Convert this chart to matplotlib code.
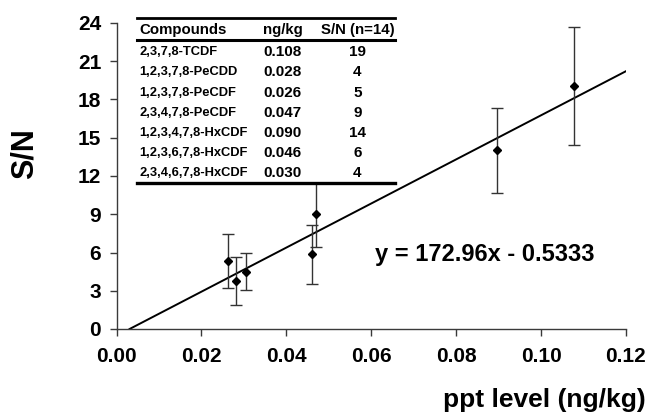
"""S/N versus ppt level for the PCDD/F congeners, with linear fit and inset table."""

import matplotlib
matplotlib.use("Agg")
import matplotlib.pyplot as plt
import numpy as np
from matplotlib.lines import Line2D
from matplotlib.patches import Rectangle

# ── Data ────────────────────────────────────────────────────────────────

compounds = [
    "2,3,7,8-TCDF",
    "1,2,3,7,8-PeCDD",
    "1,2,3,7,8-PeCDF",
    "2,3,4,7,8-PeCDF",
    "1,2,3,4,7,8-HxCDF",
    "1,2,3,6,7,8-HxCDF",
    "2,3,4,6,7,8-HxCDF",
]
ng_kg_labels = ["0.108", "0.028", "0.026", "0.047", "0.090", "0.046", "0.030"]
sn_labels = ["19", "4", "5", "9", "14", "6", "4"]

ppt_level = [0.1078, 0.0281, 0.0263, 0.0470, 0.0897, 0.0460, 0.0304]
sn_mean = [19.05, 3.75, 5.35, 9.0, 14.0, 5.85, 4.5]
sn_err = [4.6, 1.9, 2.1, 2.6, 3.3, 2.3, 1.45]

slope = 172.96
intercept = -0.5333
x_max = 0.12

# ── Figure ──────────────────────────────────────────────────────────────

plt.rcParams["font.family"] = ["Liberation Sans", "DejaVu Sans"]
plt.rcParams["font.weight"] = "bold"

W, H = 648, 416
fig = plt.figure(figsize=(W / 100, H / 100), dpi=100)
ax = fig.add_axes([116.5 / W, 1 - 329 / H, (626 - 116.5) / W, (329 - 23) / H])

axis_col = "#3a3a3a"
for side in ("top", "right"):
    ax.spines[side].set_visible(False)
for side in ("left", "bottom"):
    ax.spines[side].set_color(axis_col)
    ax.spines[side].set_linewidth(1.0)

ax.errorbar(ppt_level, sn_mean, yerr=sn_err, fmt="D", color="black",
            markersize=4.5, ecolor="#333333", elinewidth=1.0, capsize=4,
            capthick=1.0, zorder=3)

x0 = -intercept / slope
xs = np.array([x0, x_max])
ax.plot(xs, slope * xs + intercept, color="black", linewidth=1.4, zorder=2)

ax.set_xlim(0, x_max)
ax.set_ylim(0, 24)
ax.set_xticks(np.arange(0, 0.121, 0.02))
ax.set_xticklabels([f"{v:.2f}" for v in np.arange(0, 0.121, 0.02)])
ax.set_yticks(np.arange(0, 25, 3))
ax.tick_params(axis="both", direction="out", length=5, width=1.0,
               color=axis_col, labelsize=15)
ax.tick_params(axis="x", pad=8)
ax.tick_params(axis="y", pad=6)
for lab in ax.get_xticklabels() + ax.get_yticklabels():
    lab.set_fontweight("bold")

ax.text(375 / W, 1 - 255 / H, f"y = {slope}x - {intercept * -1:.4f}",
        transform=fig.transFigure, fontsize=17, fontweight="bold",
        ha="left", va="center", zorder=5)

fig.text(25 / W, 1 - 154 / H, "S/N", rotation=90, fontsize=22,
         fontweight="bold", ha="center", va="center")
fig.text(646 / W, 1 - 400 / H, "ppt level (ng/kg)", fontsize=19,
         fontweight="bold", ha="right", va="center")

# ── Inset table ─────────────────────────────────────────────────────────

tx0, tx1 = 137, 395
fig.patches.append(Rectangle((tx0 / W, 1 - 184 / H), (tx1 - tx0) / W,
                             (184 - 17) / H, transform=fig.transFigure,
                             facecolor="white", edgecolor="none", zorder=4))
for yy, lw in [(18, 2.0), (40, 2.2), (183, 2.4)]:
    fig.lines.append(Line2D([tx0 / W, tx1 / W], [1 - yy / H, 1 - yy / H],
                            transform=fig.transFigure, color="black",
                            linewidth=lw, zorder=6))

col_name, col_ng, col_sn = 139, 282.5, 357.5
head_y = 30
fig.text(col_name / W, 1 - head_y / H, "Compounds", fontsize=10.8,
         fontweight="bold", ha="left", va="center", zorder=6)
fig.text(col_ng / W, 1 - head_y / H, "ng/kg", fontsize=10.8,
         fontweight="bold", ha="center", va="center", zorder=6)
fig.text(col_sn / W, 1 - head_y / H, "S/N (n=14)", fontsize=10.8,
         fontweight="bold", ha="center", va="center", zorder=6)

row0, row_step = 52.3, 20.17
for i, (name, ng, sn) in enumerate(zip(compounds, ng_kg_labels, sn_labels)):
    yy = 1 - (row0 + i * row_step) / H
    fig.text(col_name / W, yy, name, fontsize=9.3, fontweight="bold",
             ha="left", va="center", zorder=6)
    fig.text(col_ng / W, yy, ng, fontsize=11, fontweight="bold",
             ha="center", va="center", zorder=6)
    fig.text(col_sn / W, yy, sn, fontsize=11, fontweight="bold",
             ha="center", va="center", zorder=6)

fig.savefig("out.png", dpi=100, facecolor="white")
